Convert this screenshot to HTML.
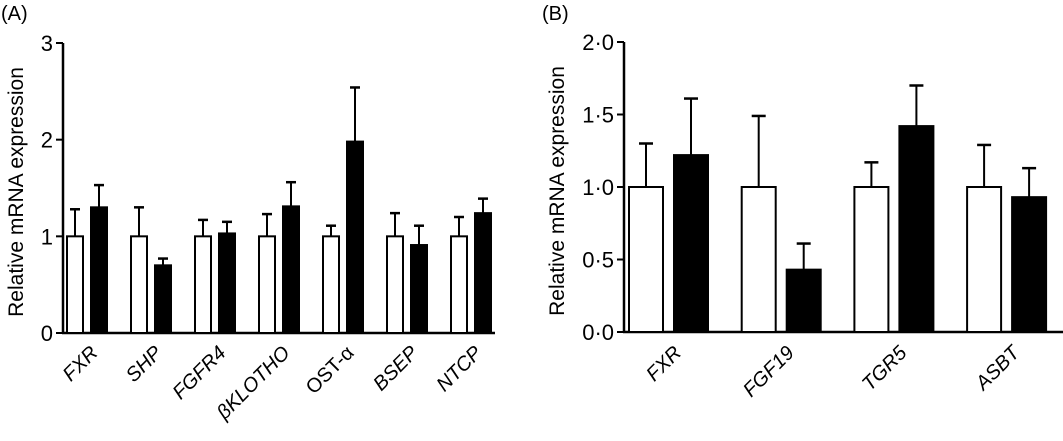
<!DOCTYPE html>
<html><head><meta charset="utf-8"><style>
body{margin:0;background:#fff;}
svg{display:block;font-family:"Liberation Sans",sans-serif;}
</style></head><body>
<svg id="chart" width="1063" height="441" viewBox="0 0 1063 441">
<text x="1" y="20" font-size="20">(A)</text>
<text x="542" y="20" font-size="20">(B)</text>
<g id="pa"></g>
<g id="pb"></g>
</svg>
<script>
const catsA=["FXR","SHP","FGFR4","βKLOTHO","OST-α","BSEP","NTCP"];
const ctrlA=[1,1,1,1,1,1,1];
const ctrlErrA=[0.28,0.30,0.17,0.23,0.11,0.24,0.20];
const trtA=[1.30,0.70,1.03,1.31,1.98,0.91,1.24];
const trtErrA=[0.23,0.07,0.12,0.25,0.56,0.20,0.15];
const ticksA=["0","1","2","3"];
const tickValsA=[0,1,2,3];

const catsB=["FXR","FGF19","TGR5","ASBT"];
const ctrlB=[1,1,1,1];
const ctrlErrB=[0.30,0.49,0.17,0.29];
const trtB=[1.22,0.43,1.42,0.93];
const trtErrB=[0.39,0.18,0.28,0.20];
const ticksB=["0·0","0·5","1·0","1·5","2·0"];
const tickValsB=[0,0.5,1,1.5,2];

const NS="http://www.w3.org/2000/svg";
function mk(parent,tag,attrs){const e=document.createElementNS(NS,tag);for(const k in attrs)e.setAttribute(k,attrs[k]);parent.appendChild(e);return e;}

function drawPanel(g,cfg){
  const y=v=>cfg.y0-(v-0)*(cfg.y0-cfg.yTop)/cfg.yMax;
  let ax=mk(g,'line',{x1:cfg.ax,y1:cfg.yTop,x2:cfg.ax,y2:cfg.y0+1,stroke:'#000','stroke-width':2.5});
  
  
  let xa=mk(g,'line',{x1:cfg.ax-1,y1:cfg.y0,x2:cfg.xEnd,y2:cfg.y0,stroke:'#000','stroke-width':2.5});
  
  
  cfg.tickVals.forEach((v,i)=>{
    const t=mk(g,'line',{x1:cfg.ax-7,y1:y(v),x2:cfg.ax,y2:y(v),stroke:'#000','stroke-width':2});
    
    
    const tx=mk(g,'text',{x:cfg.ax-10,y:y(v)+8,'font-size':22,'text-anchor':'end'});
    tx.textContent=cfg.ticks[i];
    
    
  });
  const yt=mk(g,'text',{x:0,y:0,'font-size':21,'text-anchor':'middle',transform:`translate(${cfg.titleX},${(cfg.yTop+cfg.y0)/2+4}) rotate(-90)`});
  yt.textContent='Relative mRNA expression';
  
  
  cfg.cats.forEach((c,i)=>{
    const gx=cfg.x0+i*cfg.period;
    [[cfg.ctrl,cfg.ctrlErr,'#fff',0,'control'],[cfg.trt,cfg.trtErr,'#000',cfg.gap,'treated']].forEach(([vals,errs,fill,off,nm])=>{
      const bx=gx+off, v=vals[i], top=y(v+errs[i]), cx=bx+cfg.bw/2;
      const el=mk(g,'line',{x1:cx,y1:y(v),x2:cx,y2:top,stroke:'#000','stroke-width':2});
      
      
      const cp=mk(g,'line',{x1:cx-cfg.cap,y1:top,x2:cx+cfg.cap,y2:top,stroke:'#000','stroke-width':2.5});
      
      
      const r=mk(g,'rect',{x:bx,y:y(v),width:cfg.bw,height:cfg.y0-y(v),fill:fill,stroke:'#000','stroke-width':2});
      
      
    });
    const cx=gx+(cfg.gap+cfg.bw)/2+cfg.lblOff;
    const lb=mk(g,'text',{x:cx,y:354,'font-size':20,'text-anchor':'end','font-style':c==='OST-α'?'normal':'italic',transform:`rotate(-45 ${cx} 354)`});
    lb.textContent=c;
    
    
  });
}
drawPanel(document.getElementById('pa'),{cats:catsA,ctrl:ctrlA,ctrlErr:ctrlErrA,trt:trtA,trtErr:trtErrA,ticks:ticksA,tickVals:tickValsA,yMax:3,
  ax:63,yTop:43,y0:333,xEnd:495,x0:67,period:64,bw:16,gap:24,cap:5,titleX:23,lblOff:12});
drawPanel(document.getElementById('pb'),{cats:catsB,ctrl:ctrlB,ctrlErr:ctrlErrB,trt:trtB,trtErr:trtErrB,ticks:ticksB,tickVals:tickValsB,yMax:2,
  ax:624,yTop:42,y0:332,xEnd:1063,x0:629,period:112.7,bw:34,gap:45,cap:7,titleX:564,lblOff:14});
</script>
</body></html>
